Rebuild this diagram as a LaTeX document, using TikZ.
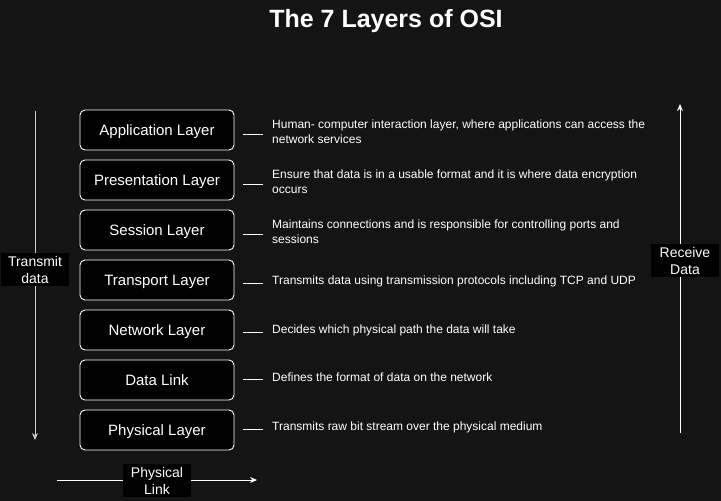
\documentclass[tikz,border=0pt]{standalone}
\usepackage{fontspec}
\setmainfont{Liberation Sans}
\usetikzlibrary{arrows.meta}
\definecolor{bg}{RGB}{20,20,20}
\definecolor{arrowgray}{RGB}{205,205,205}
\begin{document}
\begin{tikzpicture}[x=1pt,y=-1pt,
  layerbox/.style={draw=white, fill=black, line width=0.9pt, rounded corners=5pt,
    minimum width=154pt, minimum height=40pt, inner sep=0pt, text=white,
    text height=13.5pt, text depth=2.7pt,
    font=\fontsize{15}{18}\selectfont},
  desc/.style={anchor=west, inner sep=0pt, align=left, text=white,
    font=\fontsize{12}{15}\selectfont},
  tick/.style={draw=white, line width=0.9pt},
  sidelabel/.style={fill=black, text=white, minimum width=68pt, minimum height=33pt,
    inner sep=0pt, align=center, font=\fontsize{14}{17}\selectfont},
  flow/.style={line width=1pt, -{Stealth[length=7pt,width=6pt]}}
]
\useasboundingbox[fill=bg] (0,0) rectangle (721,501);

\node[text=white, font=\bfseries\fontsize{25}{30}\selectfont] (title) at (386,21) {The 7 Layers of OSI};

% layer boxes
\node[layerbox] (b1) at (157,130) {Application Layer};
\node[layerbox] (b2) at (157,180) {Presentation Layer};
\node[layerbox] (b3) at (157,230) {Session Layer};
\node[layerbox] (b4) at (157,280) {Transport Layer};
\node[layerbox] (b5) at (157,330) {Network Layer};
\node[layerbox] (b6) at (157,380) {Data Link};
\node[layerbox] (b7) at (157,430) {Physical Layer};

% descriptions
\node[desc] (d1) at (272,132) {Human- computer interaction layer, where applications can access the\\network services};
\node[desc] (d2) at (272,182) {Ensure that data is in a usable format and it is where data encryption\\occurs};
\node[desc] (d3) at (272,232) {Maintains connections and is responsible for controlling ports and\\sessions};
\node[desc] (d4) at (272,281) {Transmits data using transmission protocols including TCP and UDP};
\node[desc] (d5) at (272,330) {Decides which physical path the data will take};
\node[desc] (d6) at (272,377) {Defines the format of data on the network};
\node[desc] (d7) at (272,427) {Transmits raw bit stream over the physical medium};

\foreach \i in {1,...,7} {
  \draw[tick] ([xshift=9pt,yshift=-2pt]b\i.east |- d\i.west) -- ([xshift=-9pt,yshift=-2pt]d\i.west);
}

% transmit arrow (left)
\coordinate (tTop) at (35,111);
\coordinate (tBot) at (35,440);
\draw[flow, draw=arrowgray] (tTop) -- (tBot);
\node[sidelabel] (tl) at (35,269.5) {Transmit\\data};

% receive arrow (right)
\coordinate (rBot) at (680,433);
\coordinate (rTop) at (680,104);
\draw[flow, draw=white] (rBot) -- (rTop);
\node[sidelabel] (rl) at (685,260.5) {Receive\\Data};

% physical link arrow (bottom)
\coordinate (pL) at (57,480);
\coordinate (pR) at (257,480);
\draw[flow, draw=white] (pL) -- (pR);
\node[sidelabel] (pl) at (157,480.5) {Physical\\Link};
\end{tikzpicture}
\end{document}
